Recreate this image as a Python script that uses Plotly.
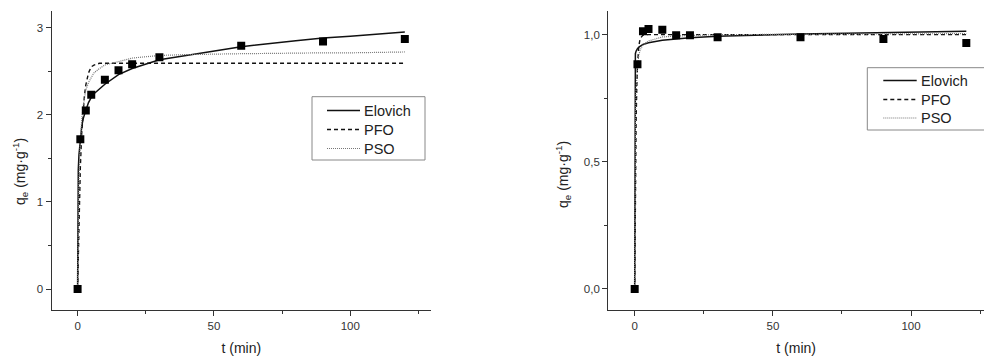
import plotly.graph_objects as go

# ---------------- data ----------------
series_names = ["Elovich", "PFO", "PSO"]

# Left panel
t_exp_a = [0, 1, 3, 5, 10, 15, 20, 30, 60, 90, 120]
q_exp_a = [0.0, 1.72, 2.05, 2.23, 2.40, 2.51, 2.58, 2.66, 2.79, 2.84, 2.87]

t_fit_a = [0, 0.02, 0.05, 0.1, 0.25, 0.5, 0.75, 1, 1.5, 2, 2.5, 3, 4, 5, 6, 8, 10,
           15, 20, 30, 40, 60, 80, 90, 100, 120]
q_elo_a = [0.0, 0.73, 0.96, 1.13, 1.37, 1.54, 1.64, 1.72, 1.86, 1.95, 2.01, 2.05,
           2.14, 2.20, 2.24, 2.30, 2.35, 2.46, 2.53, 2.63, 2.68, 2.78, 2.85, 2.88,
           2.90, 2.95]
q_pfo_a = [0.0, 0.04, 0.10, 0.19, 0.45, 0.83, 1.14, 1.39, 1.78, 2.04, 2.22, 2.34,
           2.48, 2.55, 2.57, 2.59, 2.59, 2.59, 2.59, 2.59, 2.59, 2.59, 2.59, 2.59,
           2.59, 2.59]
q_pso_a = [0.0, 0.09, 0.20, 0.38, 0.79, 1.22, 1.50, 1.69, 1.94, 2.09, 2.19, 2.28,
           2.37, 2.43, 2.48, 2.53, 2.57, 2.61, 2.65, 2.68, 2.69, 2.70, 2.71, 2.71,
           2.71, 2.72]

# Right panel
t_exp_b = [0, 1, 3, 5, 10, 15, 20, 30, 60, 90, 120]
q_exp_b = [0.0, 0.884, 1.013, 1.022, 1.019, 0.998, 0.998, 0.990, 0.990, 0.983, 0.967]

t_fit_b = [0, 0.05, 0.2, 0.25, 0.5, 0.75, 1, 1.5, 2, 3, 5, 10, 20, 30, 60, 90, 120]
q_elo_b = [0.0, 0.85, 0.92, 0.925, 0.935, 0.941, 0.945, 0.951, 0.955, 0.961, 0.968,
           0.978, 0.988, 0.994, 1.003, 1.009, 1.013]
q_pfo_b = [0.0, 0.10, 0.34, 0.41, 0.65, 0.79, 0.878, 0.957, 0.985, 0.998, 1.0,
           1.0, 1.0, 1.0, 1.0, 1.0, 1.0]
q_pso_b = [0.0, 0.26, 0.59, 0.64, 0.78, 0.84, 0.876, 0.92, 0.94, 0.96, 0.975,
           0.991, 0.997, 1.0, 1.002, 1.003, 1.004]

x_ticks = [0, 50, 100]
ya_ticks = [0, 1, 2, 3]
yb_ticks = [0.0, 0.5, 1.0]
yb_ticktext = ["0,0", "0,5", "1,0"]

FONT = "Liberation Sans, Arial, sans-serif"
AX = "#333333"
YTITLE = "q<sub>e</sub> (mg·g<sup>-1</sup>)"
W, H = 984, 356

styles = [dict(color="#111111", width=1.5),
          dict(color="#111111", width=1.4, dash="4px,3px"),
          dict(color="#777777", width=1.2, dash="1px,1px")]

fig = go.Figure()

def add_panel(t_fit, curves, t_exp, q_exp, xa, ya, grp):
    for name, q, st in zip(series_names, curves, styles):
        fig.add_trace(go.Scatter(x=t_fit, y=q, mode="lines", name=name,
                                 line=st, xaxis=xa, yaxis=ya, legendgroup=name,
                                 showlegend=False))
    fig.add_trace(go.Scatter(x=t_exp, y=q_exp, mode="markers", showlegend=False,
                             name="experimental",
                             marker=dict(symbol="square", size=8, color="#000000"),
                             xaxis=xa, yaxis=ya))

add_panel(t_fit_a, [q_elo_a, q_pfo_a, q_pso_a], t_exp_a, q_exp_a, "x", "y", "a")
add_panel(t_fit_b, [q_elo_b, q_pfo_b, q_pso_b], t_exp_b, q_exp_b, "x2", "y2", "b")

common_x = dict(showline=True, linecolor=AX, linewidth=1.3, ticks="outside",
                ticklen=5, tickcolor=AX, tickwidth=1, showgrid=False, zeroline=False,
                tickvals=x_ticks, tickfont=dict(size=11.5, color="#333333"),
                minor=dict(ticks="outside", ticklen=3, dtick=25, tick0=25,
                           tickcolor=AX, showgrid=False),
                title=dict(text="t (min)", font=dict(size=14, color="#222222"),
                           standoff=12))
common_y = dict(showline=True, linecolor=AX, linewidth=1.3, ticks="outside",
                ticklen=5, tickcolor=AX, tickwidth=1, showgrid=False, zeroline=False,
                tickfont=dict(size=11.5, color="#333333"))

ydom = [1 - 310 / H, 1 - 11 / H]

# ---- hand-drawn legend boxes (pixel layout of the reference) ----
shapes, annots = [], []

def px(x):
    return x / W

def py(y):
    return 1 - y / H

def legend_box(x0, y0, x1, y1, rows, lx0, lx1, tx):
    shapes.append(dict(type="rect", xref="paper", yref="paper",
                       x0=px(x0), x1=px(x1), y0=py(y1), y1=py(y0),
                       line=dict(color="#888888", width=1), fillcolor="white",
                       layer="above"))
    for name, st, ry in zip(series_names, styles, rows):
        shapes.append(dict(type="line", xref="paper", yref="paper",
                           x0=px(lx0), x1=px(lx1), y0=py(ry), y1=py(ry),
                           line=st, layer="above"))
        annots.append(dict(text=name, xref="paper", yref="paper", x=px(tx),
                           y=py(ry), xanchor="left", yanchor="middle",
                           showarrow=False,
                           font=dict(size=14.5, color="#222222")))

legend_box(312, 96.7, 425, 160, [110.5, 129.5, 148.5], 327, 360, 362)
legend_box(867.3, 67.7, 995, 130, [80.5, 99.5, 118], 883.3, 916.7, 918.5)

annots += [
    dict(text=YTITLE, xref="paper", yref="paper", x=px(20), y=py(172),
         xanchor="center", yanchor="middle", textangle=-90, showarrow=False,
         font=dict(size=14, color="#222222")),
    dict(text=YTITLE, xref="paper", yref="paper", x=px(563), y=py(175),
         xanchor="center", yanchor="middle", textangle=-90, showarrow=False,
         font=dict(size=14, color="#222222")),
]

fig.update_layout(
    width=W, height=H,
    margin=dict(l=0, r=0, t=0, b=0),
    paper_bgcolor="white", plot_bgcolor="white",
    font=dict(family=FONT, color="#222222"),
    xaxis=dict(common_x, domain=[51.7 / W, 431 / W], range=[-9.5, 129.6],
               anchor="y"),
    yaxis=dict(common_y, domain=ydom, range=[-0.24, 3.19], tickvals=ya_ticks,
               minor=dict(ticks="outside", ticklen=3, dtick=0.5, tick0=0.5,
                          tickcolor=AX, showgrid=False),
               anchor="x"),
    xaxis2=dict(common_x, domain=[608.3 / W, 1.0], range=[-9.55, 126.4],
                anchor="y2"),
    yaxis2=dict(common_y, domain=ydom, range=[-0.083, 1.093], tickvals=yb_ticks,
                ticktext=yb_ticktext,
                minor=dict(ticks="outside", ticklen=3, dtick=0.25, tick0=0.25,
                           tickcolor=AX, showgrid=False),
                anchor="x2"),
    showlegend=False,
    shapes=shapes,
    annotations=annots,
)

fig.write_html("out.html")
